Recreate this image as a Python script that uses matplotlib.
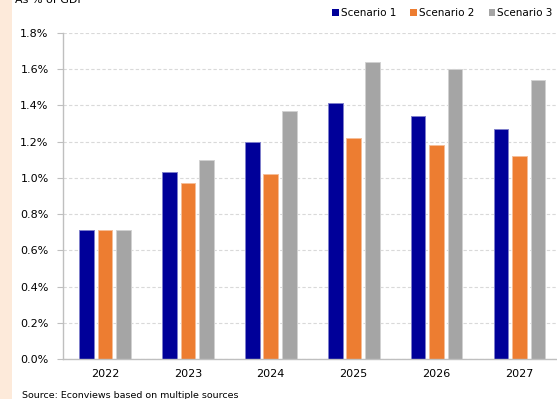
import matplotlib
matplotlib.use("Agg")
import matplotlib.pyplot as plt
from matplotlib.patches import Patch, Rectangle
import numpy as np

plt.rcParams['font.family'] = ['DejaVu Sans']

years = ["2022", "2023", "2024", "2025", "2026", "2027"]
scenario_1 = [0.71, 1.03, 1.20, 1.41, 1.34, 1.27]
scenario_2 = [0.71, 0.97, 1.02, 1.22, 1.18, 1.12]
scenario_3 = [0.71, 1.10, 1.37, 1.64, 1.60, 1.54]
series_names = ["Scenario 1", "Scenario 2", "Scenario 3"]
y_ticks = [0.0, 0.2, 0.4, 0.6, 0.8, 1.0, 1.2, 1.4, 1.6, 1.8]

colors = ["#000099", "#ED7D31", "#A5A5A5"]
edges = ["#7f7fcc", "#f6be98", "#d2d2d2"]

W, H = 557, 399
fig = plt.figure(figsize=(W / 100, H / 100), dpi=100)
fig.patch.set_facecolor("white")

# peach strip along the left edge
fig.patches.append(Rectangle((0, 0), 12 / W, 1, transform=fig.transFigure,
                             facecolor="#FDEADA", edgecolor="none", zorder=0))

ax = fig.add_axes([62.5 / W, 40 / H, (562 - 62.5) / W, 326.2 / H])
x = np.arange(len(years))
width = 0.177
step = 0.223
for i, (vals, c, e) in enumerate(zip([scenario_1, scenario_2, scenario_3], colors, edges)):
    ax.bar(x + (i - 1) * step, vals, width=width, color=c, edgecolor=e,
           linewidth=0.7, zorder=3)

ax.set_xlim(-0.512, len(years) - 1 + 0.512)
ax.set_ylim(0, 1.8)
ax.set_yticks(y_ticks)
ax.set_yticklabels([f"{v:.1f}%" for v in y_ticks], fontsize=8)
ax.set_xticks(x)
ax.set_xticklabels(years, fontsize=8)
ax.tick_params(axis="x", length=0, pad=7)
ax.tick_params(axis="y", length=4, color="#bfbfbf", pad=6)

ax.grid(axis="y", color="#d9d9d9", linestyle=(0, (3, 2)), linewidth=0.8, zorder=0)
for s in ["top", "right"]:
    ax.spines[s].set_visible(False)
for s in ["left", "bottom"]:
    ax.spines[s].set_color("#bfbfbf")
    ax.spines[s].set_linewidth(1.0)
    ax.spines[s].set_zorder(4)

handles = [Patch(facecolor=c, edgecolor="none") for c in colors]
fig.legend(handles, series_names, loc="center left",
           bbox_to_anchor=(332 / W, 1 - 13 / H), ncol=3, frameon=False,
           fontsize=7.5, handlelength=0.65, handleheight=0.65,
           handletextpad=0.2, columnspacing=1.35, borderpad=0, borderaxespad=0)

fig.text(15 / W, 1 - 3 / H, "As % of GDP", fontsize=8, va="baseline", ha="left")
fig.text(22 / W, 0.5 / H, "Source: Econviews based on multiple sources",
         fontsize=6.8, va="baseline", ha="left")

fig.savefig("out.png", dpi=100)
